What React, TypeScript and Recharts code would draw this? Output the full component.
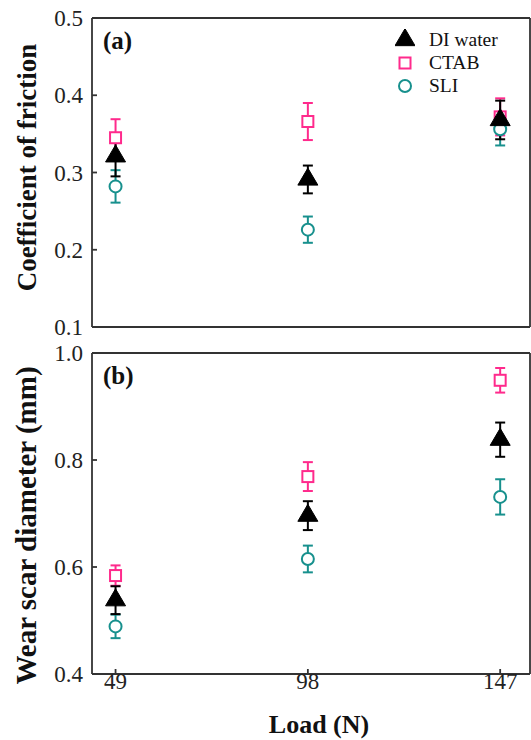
import React from 'react';
import { ScatterChart, Scatter, XAxis, YAxis, ErrorBar, Legend } from 'recharts';

// ---------- data ----------
const loads = [49, 98, 147];
const loadTicks = [49, 98, 147];
const seriesNames = ['DI water', 'CTAB', 'SLI'];

// (a) coefficient of friction
const cofDI = [0.321, 0.291, 0.368];
const cofDIErr = [0.026, 0.018, 0.025];
const cofCTAB = [0.345, 0.366, 0.372];
const cofCTABErr = [0.024, 0.024, 0.024];
const cofSLI = [0.282, 0.226, 0.356];
const cofSLIErr = [0.021, 0.017, 0.021];
const cofTicks = [0.1, 0.2, 0.3, 0.4, 0.5];

// (b) wear scar diameter (mm)
const wsdDI = [0.538, 0.696, 0.838];
const wsdDIErr = [0.026, 0.027, 0.032];
const wsdCTAB = [0.584, 0.769, 0.949];
const wsdCTABErr = [0.019, 0.027, 0.023];
const wsdSLI = [0.489, 0.615, 0.731];
const wsdSLIErr = [0.022, 0.025, 0.033];
const wsdTicks = [0.4, 0.6, 0.8, 1.0];

// ---------- styles ----------
const BLACK = '#000000';
const PINK = '#ff2a8c';
const TEAL = '#17908d';
const FRAME = '#333333';
const SERIF = '"Liberation Serif", "Times New Roman", serif';
const X_DOMAIN: [number, number] = [43, 154.6];

const rows = (vals: number[], errs: number[]) =>
  loads.map((load, i) => ({ load, value: vals[i], err: errs[i] }));

const TriangleShape = (p: any) => {
  const { cx, cy } = p;
  if (cx == null || cy == null) return null;
  const w = 20, h = 17;
  const top = cy - (2 * h) / 3;
  const bot = cy + h / 3;
  return <path d={`M${cx},${top}L${cx + w / 2},${bot}L${cx - w / 2},${bot}Z`} fill={BLACK} stroke={BLACK} strokeWidth={1} />;
};
const SquareShape = (p: any) => {
  const { cx, cy } = p;
  if (cx == null || cy == null) return null;
  return <rect x={cx - 5.5} y={cy - 5.5} width={11} height={11} fill="#fff" stroke={PINK} strokeWidth={2} />;
};
const CircleShape = (p: any) => {
  const { cx, cy } = p;
  if (cx == null || cy == null) return null;
  return <circle cx={cx} cy={cy} r={6} fill="#fff" stroke={TEAL} strokeWidth={2} />;
};

const markerFor: Record<string, any> = { 'DI water': TriangleShape, CTAB: SquareShape, SLI: CircleShape };
const colorFor: Record<string, string> = { 'DI water': BLACK, CTAB: PINK, SLI: TEAL };

const renderLegend = () => (
  <div style={{ fontFamily: SERIF, fontSize: 19.5, color: '#111' }}>
    {seriesNames.map((name) => {
      const Shape = markerFor[name];
      return (
        <div key={name} style={{ display: 'flex', alignItems: 'center', height: 23 }}>
          <svg width={20} height={22} style={{ display: 'block' }}>
            <Shape cx={10} cy={11} />
          </svg>
          <span style={{ marginLeft: 14, lineHeight: '23px' }}>{name}</span>
        </div>
      );
    })}
  </div>
);

const axisLineStyle = { stroke: FRAME, strokeWidth: 1.8 };
const tickText = { fontFamily: SERIF, fontSize: 23, fill: '#222' };

type PanelProps = {
  height: number;
  marginTop: number;
  marginBottom: number;
  bottomAxisHeight: number;
  showXLabels: boolean;
  yDomain: [number, number];
  yTicks: number[];
  title: string;
  titleSize: number;
  titleShift: number;
  tag: string;
  series: { name: string; data: { load: number; value: number; err: number }[] }[];
  legend: boolean;
};

function Panel(props: PanelProps) {
  const { height, marginTop, marginBottom, bottomAxisHeight, showXLabels, yDomain, yTicks, title, titleSize, titleShift, tag, series, legend } = props;
  return (
    <ScatterChart width={531} height={height} margin={{ top: marginTop, right: 0, bottom: marginBottom, left: 0 }}>
      <XAxis
        xAxisId="b"
        dataKey="load"
        type="number"
        domain={X_DOMAIN}
        ticks={loadTicks}
        allowDataOverflow
        orientation="bottom"
        height={bottomAxisHeight}
        tickSize={-5}
        tickMargin={4}
        tick={showXLabels ? tickText : false}
        axisLine={axisLineStyle}
        tickLine={axisLineStyle}
        label={
          showXLabels
            ? {
                content: (lp: any) => {
                  const vb = lp.viewBox;
                  return (
                    <text x={vb.x + vb.width / 2 + 8} y={vb.y + 59} textAnchor="middle" fontFamily={SERIF} fontWeight="bold" fontSize={26} fill="#111">
                      Load (N)
                    </text>
                  );
                },
              }
            : undefined
        }
      />
      <XAxis
        xAxisId="t"
        type="number"
        domain={X_DOMAIN}
        ticks={loadTicks}
        allowDataOverflow
        orientation="top"
        height={1}
        tickSize={-5}
        tick={false}
        axisLine={axisLineStyle}
        tickLine={axisLineStyle}
        label={{
          content: (lp: any) => {
            const vb = lp.viewBox;
            return (
              <text x={vb.x + 11} y={vb.y + vb.height + 31} fontFamily={SERIF} fontWeight="bold" fontSize={25} fill="#111">
                {tag}
              </text>
            );
          },
        }}
      />
      <YAxis
        yAxisId="l"
        dataKey="value"
        type="number"
        domain={yDomain}
        ticks={yTicks}
        allowDataOverflow
        width={92}
        tickSize={-5}
        tickMargin={14}
        tick={tickText}
        tickFormatter={(v: number) => v.toFixed(1)}
        axisLine={axisLineStyle}
        tickLine={axisLineStyle}
        label={{
          content: (lp: any) => {
            const vb = lp.viewBox;
            const x = 36;
            const y = vb.y + vb.height / 2 + titleShift;
            return (
              <text x={x} y={y} transform={`rotate(-90, ${x}, ${y})`} textAnchor="middle" fontFamily={SERIF} fontWeight="bold" fontSize={titleSize} fill="#111">
                {title}
              </text>
            );
          },
        }}
      />
      <YAxis
        yAxisId="r"
        type="number"
        orientation="right"
        domain={yDomain}
        ticks={yTicks}
        allowDataOverflow
        width={1}
        tickSize={-5}
        tick={false}
        axisLine={axisLineStyle}
        tickLine={axisLineStyle}
      />
      {legend && (
        <Legend
          layout="vertical"
          align="center"
          verticalAlign="middle"
          content={renderLegend}
          wrapperStyle={{ left: 395, top: 28, width: 135, height: 70 }}
        />
      )}
      {series.map((s) => (
        <Scatter
          key={s.name}
          name={s.name}
          data={s.data}
          xAxisId="b"
          yAxisId="l"
          dataKey="value"
          shape={markerFor[s.name]}
          isAnimationActive={false}
        >
          <ErrorBar dataKey="err" direction="y" width={5} strokeWidth={2} stroke={colorFor[s.name]} isAnimationActive={false} />
        </Scatter>
      ))}
    </ScatterChart>
  );
}

export default function App() {
  const topSeries = [
    { name: 'CTAB', data: rows(cofCTAB, cofCTABErr) },
    { name: 'SLI', data: rows(cofSLI, cofSLIErr) },
    { name: 'DI water', data: rows(cofDI, cofDIErr) },
  ];
  const bottomSeries = [
    { name: 'CTAB', data: rows(wsdCTAB, wsdCTABErr) },
    { name: 'SLI', data: rows(wsdSLI, wsdSLIErr) },
    { name: 'DI water', data: rows(wsdDI, wsdDIErr) },
  ];
  return (
    <div style={{ position: 'absolute', left: 0, top: 0, width: 531, height: 740, background: '#fff' }}>
      <Panel
        height={340}
        marginTop={17}
        marginBottom={12}
        bottomAxisHeight={1}
        showXLabels={false}
        yDomain={[0.1, 0.5]}
        yTicks={cofTicks}
        title="Coefficient of friction"
        titleSize={27}
        titleShift={-5}
        tag="(a)"
        series={topSeries}
        legend
      />
      <Panel
        height={400}
        marginTop={12}
        marginBottom={0}
        bottomAxisHeight={66}
        showXLabels
        yDomain={[0.4, 1.0]}
        yTicks={wsdTicks}
        title="Wear scar diameter (mm)"
        titleSize={29}
        titleShift={12}
        tag="(b)"
        series={bottomSeries}
        legend={false}
      />
    </div>
  );
}
